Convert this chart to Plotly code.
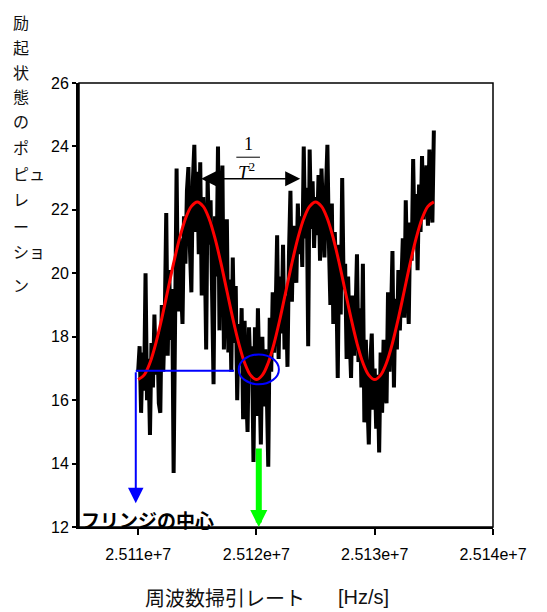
import numpy as np
import plotly.graph_objects as go

# ---- data -------------------------------------------------------------
x_start = 2.511e7
x_step = 125
population = [
    16.9, 17.7, 15.6, 17.5, 16.3, 20.0, 16.0, 17.3, 14.9, 17.8,
    16.4, 18.7, 16.8, 18.1, 15.9, 15.6, 19.0, 16.9, 18.6, 21.9,
    17.4, 20.1, 17.9, 19.5, 13.7, 20.2, 23.3, 18.8, 21.1, 19.6,
    18.4, 21.8, 20.3, 22.6, 23.35, 20.8, 19.4, 22.9, 24.05, 21.3,
    23.2, 20.6, 23.5, 19.3, 22.4, 21.0, 17.6, 23.0, 20.9, 22.3,
    18.5, 16.5, 21.8, 19.9, 24.0, 18.2, 22.1, 23.4, 17.6, 20.4,
    21.7, 17.5, 19.8, 16.9, 20.5, 17.8, 19.6, 16.0, 18.4, 17.1,
    18.9, 15.4, 18.5, 16.4, 15.0, 18.3, 16.8, 17.7, 14.05, 18.3,
    15.5, 18.9, 16.2, 14.6, 18.0, 15.8, 17.6, 16.3, 13.9, 18.6,
    16.9, 19.4, 17.5, 18.8, 21.2, 17.3, 19.9, 18.1, 20.9, 17.6,
    19.3, 17.05, 20.6, 22.6, 19.1, 21.5, 20.3, 19.7, 22.2, 20.6,
    21.8, 20.2, 24.0, 21.1, 22.7, 17.7, 23.9, 21.4, 22.9, 20.8,
    22.4, 21.2, 23.1, 20.4, 23.3, 21.9, 20.5, 22.6, 24.05, 21.0,
    19.0, 22.2, 18.4, 21.3, 19.8, 16.7, 20.9, 18.7, 23.0, 19.5,
    20.3, 17.3, 19.9, 18.1, 16.7, 19.3, 17.4, 18.6, 20.6, 17.2,
    18.9, 16.4, 20.3, 15.3, 17.9, 16.1, 14.6, 17.2, 18.1, 15.7,
    17.0, 15.1, 16.8, 14.35, 17.5, 15.6, 17.9, 16.2, 15.9, 19.4,
    16.9, 18.6, 20.7, 16.4, 19.2, 17.6, 20.1, 18.2, 19.5, 21.1,
    18.6, 22.3, 19.9, 18.4, 21.6, 20.4, 23.6, 20.9, 22.5, 20.1,
    22.8, 21.3, 23.7, 21.7, 22.6, 23.4, 21.5, 23.9, 22.2, 21.6,
    24.5,
]
x_data = x_start + x_step * np.arange(len(population))

fit_step = 500
fit_values = [
    16.65, 16.79, 17.18, 17.80, 18.58, 19.45, 20.32, 21.10, 21.72, 22.11,
    22.25, 22.11, 21.72, 21.10, 20.32, 19.45, 18.58, 17.80, 17.18, 16.79,
    16.65, 16.79, 17.18, 17.80, 18.58, 19.45, 20.32, 21.10, 21.72, 22.11,
    22.25, 22.11, 21.72, 21.10, 20.32, 19.45, 18.58, 17.80, 17.18, 16.79,
    16.65, 16.79, 17.18, 17.80, 18.58, 19.45, 20.32, 21.10, 21.72, 22.11,
    22.25,
]
x_fit = x_start + fit_step * np.arange(len(fit_values))

x_tickvals = [2.511e7, 2.512e7, 2.513e7, 2.514e7]
x_ticktext = ["2.511e+7", "2.512e+7", "2.513e+7", "2.514e+7"]
y_tickvals = [12, 14, 16, 18, 20, 22, 24, 26]

# annotation anchors (data units)
fringe_level = 16.93
fringe_x = 2.51098e7
fringe_line_end = 2.51181e7
fringe_arrow_tip = 12.75
center_x = 2.51202e7
center_arrow_top = 14.52
ellipse_x = (2.51185e7, 2.51219e7)
ellipse_y = (16.50, 17.44)
period_y = 22.98
period_x = (2.51152e7, 2.51237e7)

y_title_chars = ["励", "起", "状", "態", "の", "ポ", "ピュ", "レ", "ー", "ショ", "ン"]
y_title_px = [22, 47, 72, 96.5, 121.5, 146.5, 172.5, 199, 226, 251.5, 285]

# ---- figure -----------------------------------------------------------
L, R, T, B = 79, 54, 83, 85
W, H = 547, 612
PW, PH = W - L - R, H - T - B

fig = go.Figure()
fig.add_trace(go.Scatter(x=x_data, y=population, mode="lines",
                         line=dict(color="black", width=4), hoverinfo="skip"))
fig.add_trace(go.Scatter(x=x_fit, y=fit_values, mode="lines",
                         line=dict(color="#ff0000", width=3, shape="spline"),
                         hoverinfo="skip"))

CJK = "Noto Sans CJK JP"
SANS = "Liberation Sans, Arial"

fig.update_layout(
    width=W, height=H, showlegend=False,
    margin=dict(l=L, r=R, t=T, b=B),
    paper_bgcolor="white", plot_bgcolor="white",
    xaxis=dict(range=[2.5105e7, 2.514e7], tickvals=x_tickvals, ticktext=x_ticktext,
               showgrid=False, zeroline=False, showline=True, linecolor="black",
               linewidth=1.5, ticks="outside", ticklen=6, tickwidth=1.5,
               tickcolor="black", ticklabelstandoff=6,
               tickfont=dict(family=SANS, size=16, color="black")),
    yaxis=dict(range=[12, 26], tickvals=y_tickvals, showgrid=False, zeroline=False,
               showline=True, linecolor="black", linewidth=3, ticks="outside",
               ticklen=4, tickwidth=1.5, tickcolor="black",
               tickfont=dict(family=SANS, size=16, color="black")),
)

# border (top / right)
fig.add_shape(type="rect", xref="paper", yref="paper", x0=0, x1=1, y0=0, y1=1,
              line=dict(color="black", width=1.5))

# blue horizontal line and ellipse
fig.add_shape(type="line", x0=fringe_x, x1=fringe_line_end, y0=fringe_level,
              y1=fringe_level, line=dict(color="#0000ff", width=2))
fig.add_shape(type="circle", x0=ellipse_x[0], x1=ellipse_x[1], y0=ellipse_y[0],
              y1=ellipse_y[1], line=dict(color="#0000ff", width=2))

# arrows
fig.add_annotation(x=fringe_x, y=fringe_arrow_tip, ax=fringe_x, ay=fringe_level,
                   axref="x", ayref="y", text="", showarrow=True, arrowhead=2,
                   arrowsize=1.55, arrowwidth=2, arrowcolor="#0000ff")
fig.add_annotation(x=center_x, y=12.0, ax=center_x, ay=center_arrow_top,
                   axref="x", ayref="y", text="", showarrow=True, arrowhead=2,
                   arrowsize=0.57, arrowwidth=6, arrowcolor="#00ff00")
fig.add_annotation(x=period_x[1], y=period_y, ax=period_x[0], ay=period_y,
                   axref="x", ayref="y", text="", showarrow=True, arrowhead=2,
                   startarrowhead=2, arrowside="end+start", arrowsize=2,
                   startarrowsize=2, arrowwidth=1.5, arrowcolor="black")

# 1 / T^2 fraction
SERIF = "Liberation Serif, Times New Roman"
fig.add_annotation(x=2.51193e7, y=24.08, text="1", showarrow=False,
                   font=dict(family=SERIF, size=18, color="black"))
fig.add_annotation(x=2.51192e7, y=23.22, text="<i>T</i><sup>2</sup>", showarrow=False,
                   font=dict(family=SERIF, size=19, color="black"))
fig.add_shape(type="line", x0=2.51183e7, x1=2.51203e7, y0=23.66, y1=23.66,
              line=dict(color="black", width=1))

# fringe centre label
fig.add_annotation(xref="paper", x=0, xanchor="left", y=12.24, yanchor="middle",
                   text="<b>フリンジの中心</b>", showarrow=False,
                   font=dict(family=CJK, size=19, color="black"))

# y title, stacked characters
for ch, py in zip(y_title_chars, y_title_px):
    fig.add_annotation(xref="paper", yref="paper", x=(11 - L) / PW, xanchor="left",
                       y=(T + PH - py) / PH, yanchor="middle", text=ch,
                       showarrow=False, font=dict(family=CJK, size=16, color="#111"))

# x title
fig.add_annotation(xref="paper", yref="paper", x=(143 - L) / PW, xanchor="left",
                   y=(T + PH - 597) / PH, yanchor="middle",
                   text="周波数掃引レート", showarrow=False,
                   font=dict(family=CJK, size=20, color="#111"))
fig.add_annotation(xref="paper", yref="paper", x=(336 - L) / PW, xanchor="left",
                   y=(T + PH - 597) / PH, yanchor="middle",
                   text="[Hz/s]", showarrow=False,
                   font=dict(family=SANS, size=20, color="#111"))

fig.write_html("out.html", config={"displayModeBar": False},
               post_script="document.body.style.margin='0';document.body.style.overflow='hidden';")
